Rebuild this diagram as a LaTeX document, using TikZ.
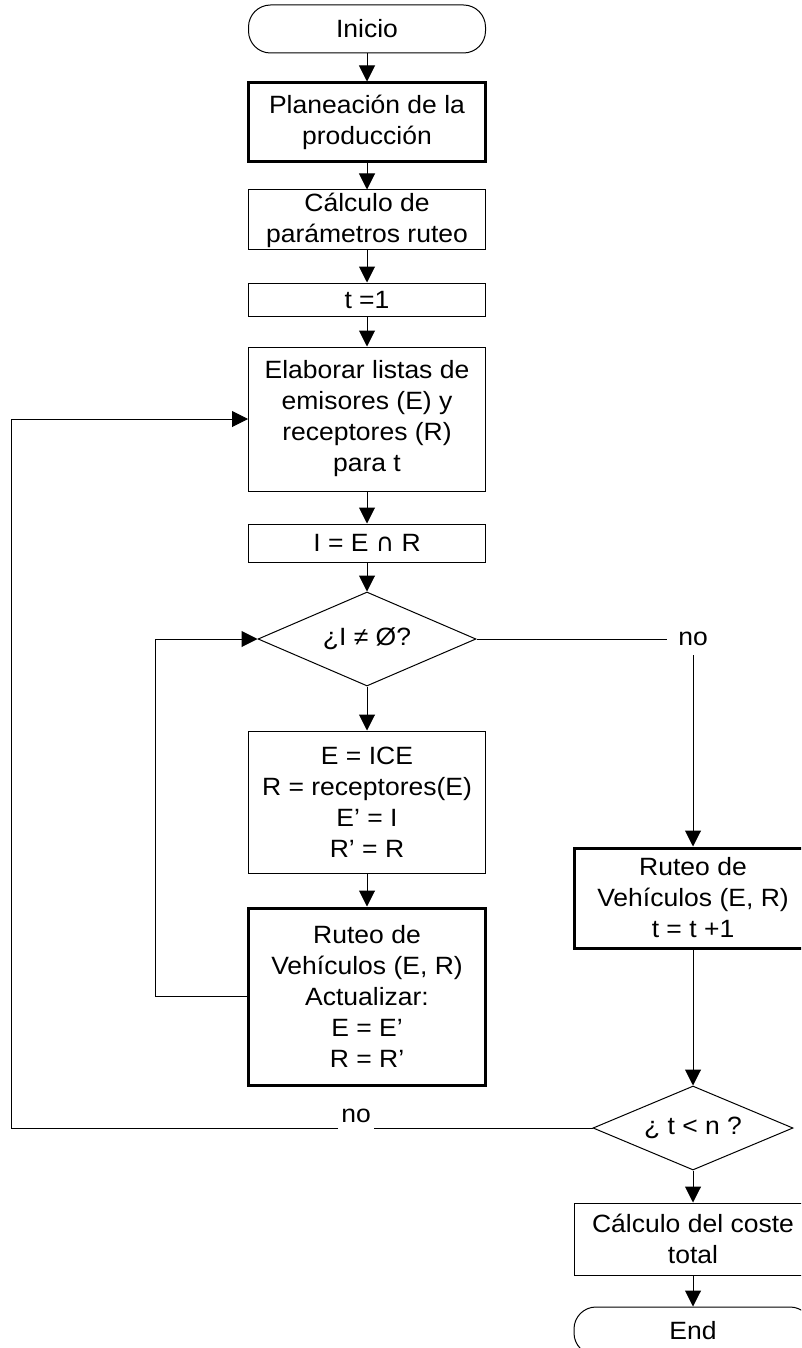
\documentclass[tikz,border=0pt]{standalone}
\usepackage{fontspec}
\setmainfont{Liberation Sans}[FakeStretch=1.06]
\newfontfamily\symfont{DejaVu Sans}
\usetikzlibrary{arrows.meta,shapes.geometric}
\begin{document}
\begin{tikzpicture}[x=1pt,y=-1pt,
  every node/.style={font=\fontsize{25}{31}\selectfont, align=center, inner sep=0pt},
  proc/.style={draw, line width=1pt, minimum width=237pt},
  procb/.style={proc, line width=3pt},
  term/.style={draw, line width=1pt, rounded corners=22pt, minimum width=237pt, minimum height=48pt},
  decide/.style={draw, diamond, aspect=2.3, line width=1pt, inner sep=0pt},
  lbl/.style={inner xsep=3pt, inner ysep=9pt},
  arr/.style={line width=1pt, -{Triangle[width=16pt,length=16pt]}}]
  \useasboundingbox (0,0) rectangle (801,1348);
  \clip (0,0) rectangle (801,1348);
  % main column
  \node[term] (inicio) at (367,29) {Inicio};
  \node[procb, minimum height=79pt] (plan) at (367,122.5) {Planeación de la\\producción};
  \node[proc, minimum height=60pt] (calc) at (367,220) {Cálculo de\\parámetros ruteo};
  \node[proc, minimum height=33pt] (tuno) at (367,299.5) {t =1};
  \node[proc, minimum height=144pt] (elab) at (367,419) {Elaborar listas de\\emisores (E) y\\receptores (R)\\para t};
  \node[proc, minimum height=38pt] (inter) at (367,543) {I = E {\symfont ∩} R};
  \node[decide, minimum width=218pt, minimum height=94pt] (d1) at (367,639) {¿I ≠ Ø?};
  \node[proc, minimum height=142pt] (asig) at (367,802) {E = ICE\\R = receptores(E)\\E’ = I\\R’ = R};
  \node[procb, minimum height=177pt] (rut1) at (367,996.5) {Ruteo de\\Vehículos (E, R)\\Actualizar:\\E = E’\\R = R’};
  % right column
  \node[lbl, inner xsep=11pt] (no1) at (693,639) {no};
  \node[procb, minimum width=238pt, minimum height=100pt] (rut2) at (693,898) {Ruteo de\\Vehículos (E, R)\\t = t +1};
  \node[decide, minimum width=200pt, minimum height=84pt] (d2) at (693,1128) {¿ t < n ?};
  \node[proc, minimum width=238pt, minimum height=72pt] (coste) at (693,1239) {Cálculo del coste\\total};
  \node[term, minimum width=238pt] (fin) at (693,1331) {End};
  \node[lbl] (no2) at (356,1116) {no};
  \coordinate (lloop) at (155,0);
  \coordinate (rloop) at (11,0);

  \draw[arr] (inicio) -- (plan);
  \draw[arr] (plan) -- (calc);
  \draw[arr] (calc) -- (tuno);
  \draw[arr] (tuno) -- (elab);
  \draw[arr] (elab) -- (inter);
  \draw[arr] (inter) -- (d1);
  \draw[arr] (d1) -- (asig);
  \draw[arr] (asig) -- (rut1);
  \draw[arr] (rut1.west) -| (lloop |- d1.west) -- (d1.west);
  \draw[line width=1pt] (d1.east) -- (no1.west);
  \draw[arr] (no1.south) -- (rut2.north);
  \draw[arr] (rut2) -- (d2);
  \draw[arr] (d2) -- (coste);
  \draw[arr] (coste) -- (fin);
  \draw[line width=1pt] (d2.west) -- (no2.east |- d2.west);
  \draw[arr] (no2.west |- d2.west) -| (rloop |- elab.west) -- (elab.west);
\end{tikzpicture}
\end{document}
